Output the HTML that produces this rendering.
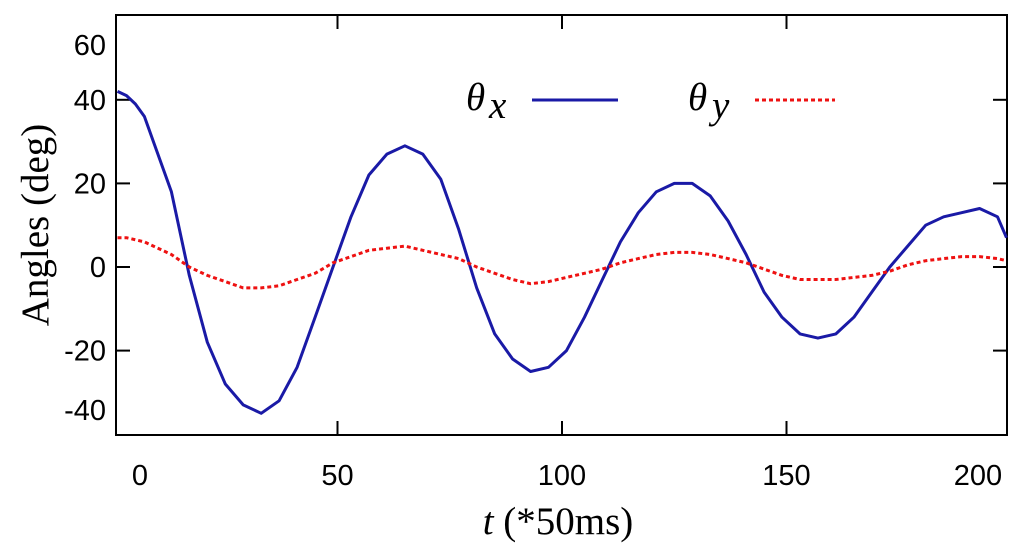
<!DOCTYPE html>
<html><head><meta charset="utf-8"><style>
body{margin:0;background:#fff}
svg{display:block}
.tk{font-family:"Liberation Sans",sans-serif;font-size:29px;fill:#000}
.tt{font-family:"Liberation Serif",serif;font-size:39px;fill:#000}
</style></head><body>
<svg id="c" width="1024" height="555" viewBox="0 0 1024 555"></svg>
<script>
const tVals=[1,3,5,7,9,13,17,21,25,29,33,37,41,45,49,53,57,61,65,69,73,77,81,85,89,93,97,101,105,109,113,117,121,125,129,133,137,141,145,149,153,157,161,165,169,173,177,181,185,189,193,197,199];
const thetaX=[42,41,39,36,30,18,-2,-18,-28,-33,-35,-32,-24,-12,0,12,22,27,29,27,21,9,-5,-16,-22,-25,-24,-20,-12,-3,6,13,18,20,20,17,11,3,-6,-12,-16,-17,-16,-12,-6,0,5,10,12,13,14,12,7];
const thetaY=[7,7,6.5,6,5,3,0,-2,-3.5,-5,-5,-4.5,-3,-1.5,1,2.5,4,4.5,5,4,3,2,0,-1.5,-3,-4,-3.5,-2.5,-1.5,-0.5,1,2,3,3.5,3.5,3,2,1,-0.5,-2,-3,-3,-3,-2.5,-2,-1,0.5,1.5,2,2.5,2.5,2,1.5];
const xTicks=[0,50,100,150,200];
const yTicks=[-40,-20,0,20,40,60];
const L=116,R=1007,T=15,B=435;
const X=t=>113+t*4.49;
const Y=v=>267-v*4.18;
const svg=document.getElementById('c');
const NS='http://www.w3.org/2000/svg';
function mk(tag,attrs,parent){const e=document.createElementNS(NS,tag);for(const k in attrs)e.setAttribute(k,attrs[k]);(parent||svg).appendChild(e);return e;}
const frame=mk('rect',{x:L,y:T,width:R-L,height:B-T,fill:'none',stroke:'#000','stroke-width':2});


xTicks.forEach(v=>{
  const x=X(v);
  if(x>L+2&&x<R-2){
    const a=mk('line',{x1:x,x2:x,y1:B,y2:B-14,stroke:'#000','stroke-width':2});
    
    
    const b=mk('line',{x1:x,x2:x,y1:T,y2:T+14,stroke:'#000','stroke-width':2});
    
    
  }
  const lx=Math.min(Math.max(x,140),978);
  const tx=mk('text',{x:lx,y:485,'text-anchor':'middle',class:'tk'});
  tx.textContent=v;
  
  
});
yTicks.forEach(v=>{
  const y=Y(v);
  if(y>T+2&&y<B-2){
    const a=mk('line',{x1:L,x2:L+14,y1:y,y2:y,stroke:'#000','stroke-width':2});
    
    
    const b=mk('line',{x1:R,x2:R-14,y1:y,y2:y,stroke:'#000','stroke-width':2});
    
    
  }
  const ly=Math.min(Math.max(y,45),410);
  const tx=mk('text',{x:106,y:ly+10,'text-anchor':'end',class:'tk'});
  tx.textContent=v;
  
  
});
function pts(arr){return tVals.map((t,i)=>X(t).toFixed(1)+','+Y(arr[i]).toFixed(1)).join(' ');}
const lx=mk('polyline',{points:pts(thetaX),fill:'none',stroke:'#1a1aa6','stroke-width':3,'stroke-linejoin':'round'});


const ly=mk('polyline',{points:pts(thetaY),fill:'none',stroke:'#ee1111','stroke-width':3,'stroke-dasharray':'4,3'});


</script>
<svg style="position:absolute;left:0;top:0" width="1024" height="555">
<g>
<text x="466" y="110" class="tt" font-size="35" font-style="italic">θ</text><text x="489" y="118" class="tt" font-size="24" font-style="italic">x</text>
<line x1="532" x2="618" y1="100" y2="100" stroke="#1a1aa6" stroke-width="3"/></g>
<g>
<text x="688" y="110" class="tt" font-size="35" font-style="italic">θ</text><text x="712" y="118" class="tt" font-size="24" font-style="italic">y</text>
<line x1="755" x2="835" y1="100" y2="100" stroke="#ee1111" stroke-width="3" stroke-dasharray="4,3"/></g>
<text class="tt" transform="translate(48,225) rotate(-90)" text-anchor="middle">Angles (deg)</text>
<text class="tt" x="558" y="534" text-anchor="middle"><tspan font-style="italic">t</tspan> (*50ms)</text>
</svg>
</body></html>
